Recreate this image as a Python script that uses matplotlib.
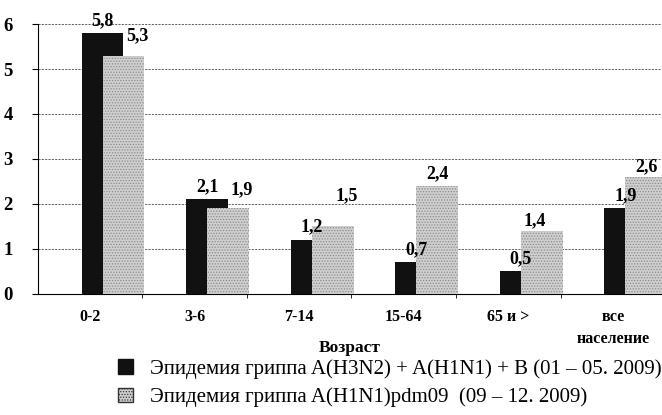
import matplotlib

matplotlib.use("Agg")
import matplotlib.pyplot as plt
import numpy as np
from matplotlib.patches import Patch

# данные
ages = ["0-2", "3-6", "7-14", "15-64", "65 и >", "все\nнаселение"]
epi_2009_spring = [5.8, 2.1, 1.2, 0.7, 0.5, 1.9]   # A(H3N2)+A(H1N1)+B
epi_2009_pdm = [5.3, 1.9, 1.5, 2.4, 1.4, 2.6]      # A(H1N1)pdm09
labels_spring = ["5,8", "2,1", "1,2", "0,7", "0,5", "1,9"]
labels_pdm = ["5,3", "1,9", "1,5", "2,4", "1,4", "2,6"]
legend_names = [
    "Эпидемия гриппа A(H3N2) + A(H1N1) + B (01 – 05. 2009)",
    "Эпидемия гриппа A(H1N1)pdm09  (09 – 12. 2009)",
]

plt.rcParams["font.family"] = ["Liberation Serif", "DejaVu Serif"]
plt.rcParams["hatch.linewidth"] = 0.6

BLACK = "#111111"
GREY = "#cfcfcf"

fig = plt.figure(figsize=(6.62, 4.15), dpi=100)
ax = fig.add_axes([0.057, 0.292, 0.943, 0.650])

x = np.arange(len(ages))
w = 0.40
ax.bar(x + 0.12, epi_2009_spring, w, color=BLACK, zorder=2)
ax.bar(x + 0.32, epi_2009_pdm, w, color=GREY, edgecolor="#8c8c8c",
       linewidth=0, hatch="......", zorder=3)

# подписи значений
for xi, v, s in zip(x, epi_2009_spring, labels_spring):
    ax.annotate(s, (xi + 0.12, v), xytext=(0, 3), textcoords="offset points",
                ha="center", va="bottom", fontsize=13, fontweight="bold", zorder=5)
grey_dx = [10, 10, 10, 0, -5, 0]
grey_dy = [8, 7, 16, 3, 1, 1]
for xi, v, s, dx, dy in zip(x, epi_2009_pdm, labels_pdm, grey_dx, grey_dy):
    ax.annotate(s, (xi + 0.32, v), xytext=(dx, dy), textcoords="offset points",
                ha="center", va="bottom", fontsize=13, fontweight="bold", zorder=5)

ax.set_xlim(-0.5, 5.47)
ax.set_ylim(0, 6)
ax.set_yticks(range(0, 7))
ax.set_yticklabels([str(i) for i in range(0, 7)], fontsize=13.5, fontweight="bold")
ax.tick_params(axis="y", length=4, pad=14)
ax.set_xticks(x)
ax.set_xticklabels(ages, fontsize=11.5, fontweight="bold", linespacing=1.5)
ax.set_xticks(x[:-1] + 0.5, minor=True)
ax.tick_params(axis="x", which="major", length=0, pad=11)
ax.tick_params(axis="x", which="minor", length=3)
ax.grid(axis="y", color="#444444", linestyle=(0, (2.5, 1.5)), linewidth=0.6, zorder=1)
for side in ("top", "right"):
    ax.spines[side].set_visible(False)
ax.set_xlabel("Возраст", fontsize=12.5, fontweight="bold", labelpad=-5)

handles = [
    Patch(facecolor=BLACK, edgecolor=BLACK),
    Patch(facecolor=GREY, edgecolor="#333333", hatch="......", linewidth=1),
]
fig.legend(handles, legend_names, loc="upper left",
           bbox_to_anchor=(0.163, 0.16), bbox_transform=fig.transFigure,
           frameon=False, fontsize=15,
           handlelength=0.72, handleheight=0.72, handletextpad=0.8, labelspacing=0.42,
           borderpad=0)

fig.savefig("out.png", dpi=100, facecolor="white")
